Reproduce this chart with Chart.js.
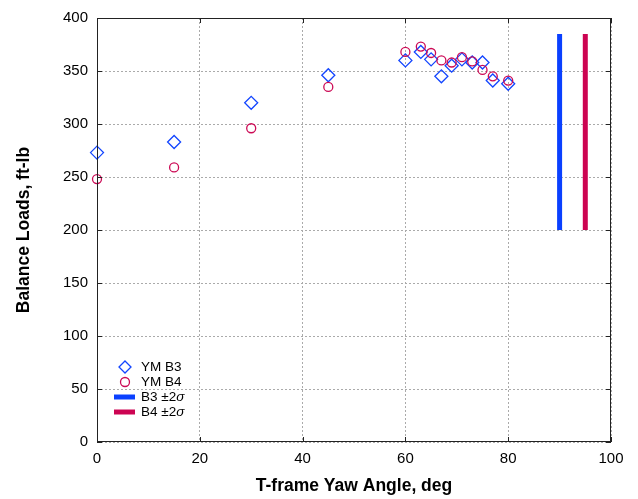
<!DOCTYPE html>
<html>
<head>
<meta charset="utf-8">
<script src="https://cdn.jsdelivr.net/npm/chart.js@4.4.1/dist/chart.umd.min.js"></script>
<style>
  html, body { margin: 0; padding: 0; background: #fff; }
  #wrap { width: 638px; height: 499px; position: relative; }
</style>
</head>
<body>
<div id="wrap"><canvas id="c" width="638" height="499"></canvas></div>
<script>
// ---- data ----
const yawB3 = [0, 15, 30, 45, 60, 63, 65, 67, 69, 71, 73, 75, 77, 80];
const ymB3  = [273, 283, 320, 346, 360, 368, 361, 345, 355, 361, 358, 358, 341, 338];
const yawB4 = [0, 15, 30, 45, 60, 63, 65, 67, 69, 71, 73, 75, 77, 80];
const ymB4  = [248, 259, 296, 335, 368, 373, 367, 360, 358, 363, 359, 351, 345, 341];
const sigmaB3X = [90, 90];
const sigmaB3Y = [200, 385];
const sigmaB4X = [95, 95];
const sigmaB4Y = [200, 385];
const xTicks = [0, 20, 40, 60, 80, 100];
const yTicks = [0, 50, 100, 150, 200, 250, 300, 350, 400];
const legendLabels = ['YM B3', 'YM B4', 'B3 \u00b12', 'B4 \u00b12'];

const BLUE = '#1245ff';
const RED = '#cc0a55';
const BAR_BLUE = '#0a40ff';
const BAR_RED = '#cc0452';
const FONT = "'Liberation Sans', Arial, Helvetica, sans-serif";

const zip = (xs, ys) => xs.map((x, i) => ({ x: x, y: ys[i] }));

const framePlugin = {
  id: 'frame',
  afterDatasetsDraw(chart) {
    const { ctx, chartArea: a, scales } = chart;
    ctx.save();
    ctx.strokeStyle = '#222';
    ctx.lineWidth = 1;
    ctx.strokeRect(a.left + 0.5, a.top + 0.5, a.right - a.left - 1, a.bottom - a.top - 1);
    const tl = 5;
    ctx.beginPath();
    xTicks.forEach(v => {
      const px = Math.round(scales.x.getPixelForValue(v)) + 0.5;
      ctx.moveTo(px, a.bottom); ctx.lineTo(px, a.bottom - tl);
      ctx.moveTo(px, a.top); ctx.lineTo(px, a.top + tl);
    });
    yTicks.forEach(v => {
      const py = Math.round(scales.y.getPixelForValue(v)) + 0.5;
      ctx.moveTo(a.left, py); ctx.lineTo(a.left + tl, py);
      ctx.moveTo(a.right, py); ctx.lineTo(a.right - tl, py);
    });
    ctx.stroke();
    ctx.restore();
  }
};

const legendPlugin = {
  id: 'innerLegend',
  afterDraw(chart) {
    const { ctx, chartArea: a } = chart;
    const x0 = a.left + 28;
    const tx = a.left + 44;
    const y0 = a.bottom - 75;
    const dy = 15;
    const fs = 13.5;
    ctx.save();
    ctx.font = fs + 'px ' + FONT;
    ctx.fillStyle = '#000';
    ctx.textBaseline = 'middle';
    ctx.textAlign = 'left';
    // diamond
    ctx.lineWidth = 1.3;
    ctx.strokeStyle = BLUE;
    ctx.beginPath();
    ctx.moveTo(x0, y0 - 6); ctx.lineTo(x0 + 6, y0); ctx.lineTo(x0, y0 + 6); ctx.lineTo(x0 - 6, y0);
    ctx.closePath();
    ctx.stroke();
    ctx.fillText(legendLabels[0], tx, y0 + 0.5);
    // circle
    ctx.strokeStyle = RED;
    ctx.beginPath();
    ctx.arc(x0, y0 + dy, 4.5, 0, Math.PI * 2);
    ctx.stroke();
    ctx.fillText(legendLabels[1], tx, y0 + dy + 0.5);
    // bars
    ctx.lineWidth = 5;
    ctx.strokeStyle = BAR_BLUE;
    ctx.beginPath(); ctx.moveTo(x0 - 11, y0 + 2 * dy); ctx.lineTo(x0 + 10, y0 + 2 * dy); ctx.stroke();
    ctx.strokeStyle = BAR_RED;
    ctx.beginPath(); ctx.moveTo(x0 - 11, y0 + 3 * dy); ctx.lineTo(x0 + 10, y0 + 3 * dy); ctx.stroke();
    [2, 3].forEach(i => {
      const lbl = legendLabels[i];
      ctx.font = fs + 'px ' + FONT;
      ctx.fillText(lbl, tx, y0 + i * dy + 0.5);
      const w = ctx.measureText(lbl).width;
      ctx.font = 'italic ' + fs + 'px ' + FONT;
      ctx.fillText('\u03c3', tx + w, y0 + i * dy + 0.5);
    });
    ctx.restore();
  }
};

new Chart(document.getElementById('c'), {
  type: 'scatter',
  data: {
    datasets: [
      {
        label: 'YM B4', data: zip(yawB4, ymB4), order: 0, clip: false,
        pointStyle: 'circle', pointRadius: 4.5, pointBorderWidth: 1.3,
        borderColor: RED, backgroundColor: 'rgba(0,0,0,0)', showLine: false
      },
      {
        label: 'YM B3', data: zip(yawB3, ymB3), order: 1, clip: false,
        pointStyle: 'rectRot', pointRadius: 6.5, pointBorderWidth: 1.3,
        borderColor: BLUE, backgroundColor: 'rgba(0,0,0,0)', showLine: false
      },
      {
        label: 'B3 \u00b12\u03c3', data: zip(sigmaB3X, sigmaB3Y), order: 2,
        showLine: true, borderColor: BAR_BLUE, borderWidth: 5, pointRadius: 0,
        borderCapStyle: 'butt'
      },
      {
        label: 'B4 \u00b12\u03c3', data: zip(sigmaB4X, sigmaB4Y), order: 3,
        showLine: true, borderColor: BAR_RED, borderWidth: 5, pointRadius: 0,
        borderCapStyle: 'butt'
      }
    ]
  },
  options: {
    responsive: false,
    animation: false,
    layout: { padding: { top: 18, right: 27, left: 0, bottom: 0 } },
    plugins: { legend: { display: false }, tooltip: { enabled: false } },
    scales: {
      x: {
        type: 'linear', min: 0, max: 100,
        afterBuildTicks: s => { s.ticks = xTicks.map(v => ({ value: v })); },
        afterFit: s => { s.height = 57; },
        ticks: { color: '#000', padding: 8, font: { size: 15, family: FONT } },
        grid: { color: '#aaa', lineWidth: 1, drawTicks: false },
        border: { display: false, dash: [2, 2] },
        title: { display: true, text: 'T-frame Yaw Angle, deg', color: '#000',
                 font: { size: 17.5, weight: 'bold', family: FONT }, padding: { top: 0, bottom: 2 } }
      },
      y: {
        type: 'linear', min: 0, max: 400,
        afterBuildTicks: s => { s.ticks = yTicks.map(v => ({ value: v })); },
        afterFit: s => { s.width = 97; },
        ticks: { color: '#000', padding: 9, font: { size: 15, family: FONT } },
        grid: { color: '#aaa', lineWidth: 1, drawTicks: false },
        border: { display: false, dash: [2, 2] },
        title: { display: true, text: 'Balance Loads, ft-lb', color: '#000',
                 font: { size: 17.5, weight: 'bold', family: FONT }, padding: { top: 14, bottom: 0 } }
      }
    }
  },
  plugins: [framePlugin, legendPlugin]
});
</script>
</body>
</html>
